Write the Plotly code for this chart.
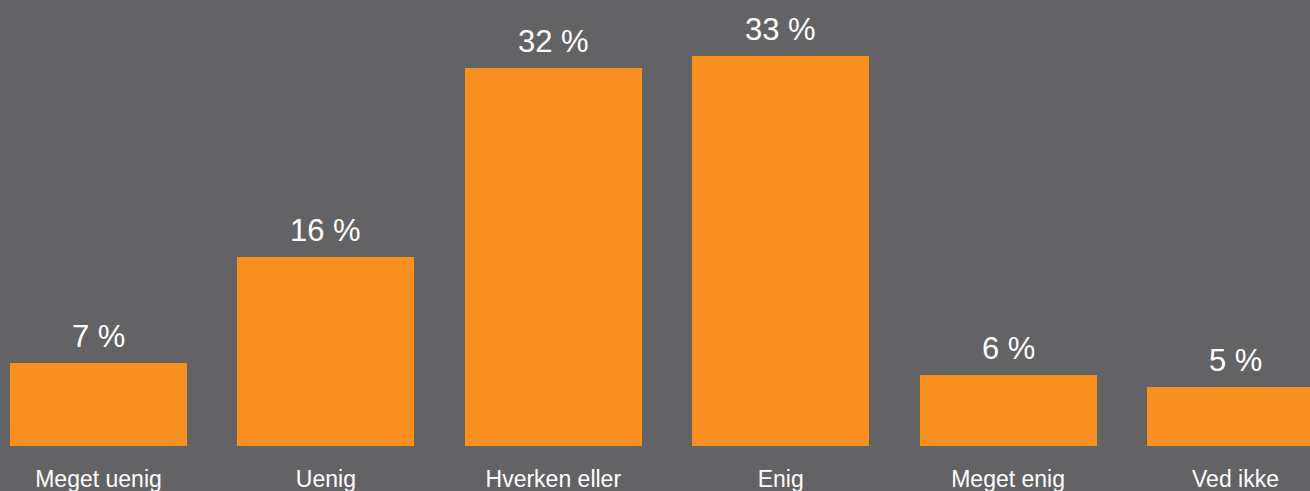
import plotly.graph_objects as go

categories = ["Meget uenig", "Uenig", "Hverken eller", "Enig", "Meget enig", "Ved ikke"]
values = [7, 16, 32, 33, 6, 5]
value_labels = [f"{v} %" for v in values]

BG = "#636365"
BAR = "#F7901E"
FONT = "Liberation Sans, Arial, Helvetica, sans-serif"

fig = go.Figure()
fig.add_trace(go.Bar(
    x=list(range(len(categories))),
    y=values,
    width=0.778,
    marker=dict(color=BAR, line=dict(width=0)),
    hoverinfo="skip",
))

for i, (v, lab) in enumerate(zip(values, value_labels)):
    fig.add_annotation(
        x=i, y=v, text=lab, showarrow=False,
        xanchor="center", yanchor="bottom", yshift=7,
        font=dict(family=FONT, size=31, color="white"),
    )

fig.update_layout(
    width=1310, height=491,
    margin=dict(l=0, r=0, t=0, b=45),
    paper_bgcolor=BG, plot_bgcolor=BG,
    showlegend=False,
    bargap=0,
    xaxis=dict(
        range=[-0.4332, 5.3276],
        tickmode="array",
        tickvals=list(range(len(categories))),
        ticktext=categories,
        showgrid=False, zeroline=False, showline=False, ticks="",
        ticklabelstandoff=17,
        tickfont=dict(family=FONT, size=23, color="white"),
        fixedrange=True,
    ),
    yaxis=dict(
        range=[0, 37.73],
        visible=False, showgrid=False, zeroline=False,
        fixedrange=True,
    ),
)

fig.write_html(
    "out.html",
    config={"displayModeBar": False},
    post_script="document.body.style.margin='0';document.body.style.background='" + BG + "';",
)
